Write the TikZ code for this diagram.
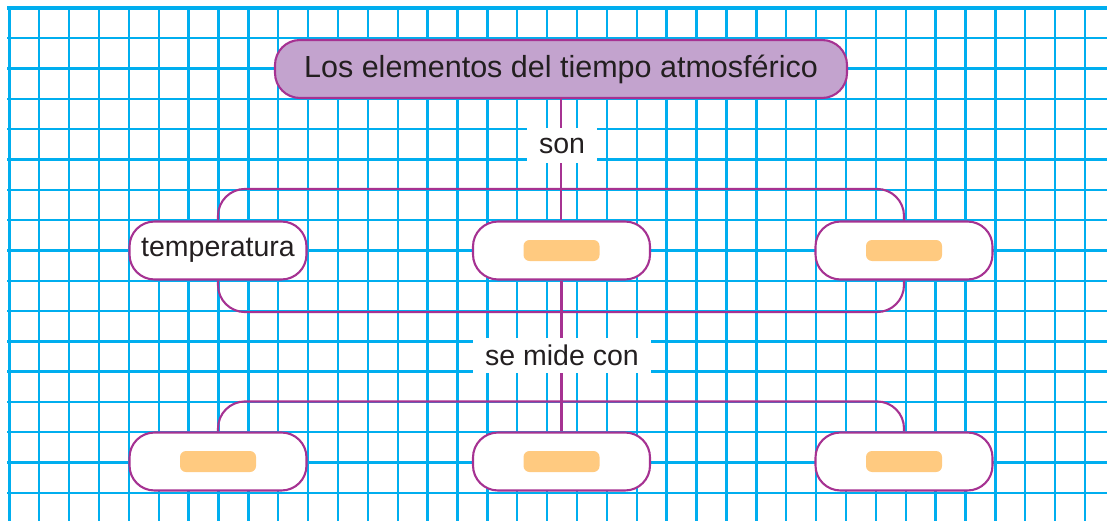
\documentclass[tikz,border=0pt]{standalone}
\usepackage{fontspec}
\setmainfont{Liberation Sans}
\usepackage{xcolor}
\usepackage{tikz}

\definecolor{gridblue}{RGB}{0,174,239}
\definecolor{conceptrim}{RGB}{166,50,146}
\definecolor{titlelilac}{RGB}{195,163,206}
\definecolor{blankorange}{RGB}{255,202,128}
\definecolor{inktext}{RGB}{35,31,32}

\tikzset{
  grid line/.style={draw=gridblue, line width=2.4pt},
  concept/.style={draw=conceptrim, line width=2.1pt, fill=white, rounded corners=25pt,
    minimum width=177pt, minimum height=58pt, inner sep=0pt, text=inktext,
    font=\fontsize{28.5}{32}\selectfont},
  title/.style={concept, fill=titlelilac, minimum width=572pt,
    font=\fontsize{30.5}{34}\selectfont},
  blank/.style={fill=blankorange, rounded corners=6pt, minimum width=76pt,
    minimum height=21pt, inner sep=0pt},
  joiner/.style={draw=conceptrim, line width=2.1pt, rounded corners=27pt},
  link word/.style={fill=white, text=inktext, inner xsep=12pt, minimum height=35pt,
    font=\fontsize{28.5}{32}\selectfont},
}

\begin{document}
\begin{tikzpicture}[x=1pt,y=-1pt]
    \useasboundingbox (0,0) rectangle (1107,521);

    % Grid paper
    \foreach \gx in {0,...,36}
        \draw[grid line] ({9.3+29.88*\gx},8) -- ({9.3+29.88*\gx},521);
    \foreach \gy in {1,...,16}
        \draw[grid line] (7,{8+30.3*\gy}) -- (1107,{8+30.3*\gy});
    \draw[grid line,line width=4pt] (7,8) -- (1107,8);

    % Title
    \node[title] (tiempo) at (561,69) {Los elementos del tiempo atmosférico};

    % Elements
    \node[concept] (temp) at (218,250.5) {temperatura};
    \node[concept] (elem2) at (561.5,250.5) {};
    \node[concept] (elem3) at (904,250.5) {};
    \node[blank] (blank2) at (elem2) {};
    \node[blank] (blank3) at (elem3) {};

    % Instruments
    \node[concept] (instr1) at (218,461.5) {};
    \node[concept] (instr2) at (561.5,461.5) {};
    \node[concept] (instr3) at (904,461.5) {};
    \node[blank] (blank4) at (instr1) {};
    \node[blank] (blank5) at (instr2) {};
    \node[blank] (blank6) at (instr3) {};

    % Connectors
    \draw[joiner] (tiempo.south) -- (tiempo.south |- elem2.north);
    \draw[joiner] (elem2.south) -- (elem2.south |- instr2.north);
    \draw[joiner] (temp.north) -- ++(0,-31.5) -| (elem3.north);
    \draw[joiner] (temp.south) -- ++(0,31.5) -| (elem3.south);
    \draw[joiner] (instr1.north) -- ++(0,-30) -| (instr3.north);

    % Linking words
    \node[link word] (son) at (562,146) {son};
    \node[link word] (mide) at (562,355) {se mide con};
\end{tikzpicture}
\end{document}
